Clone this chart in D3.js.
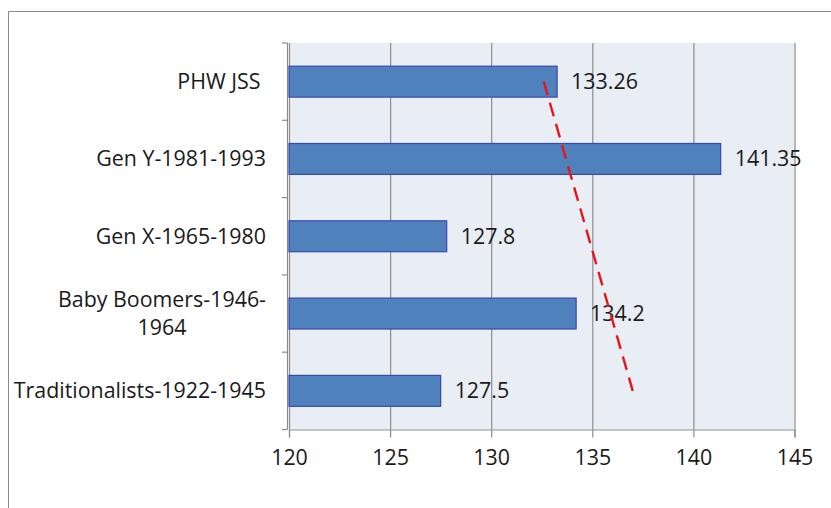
<!DOCTYPE html>
<html>
<head>
<meta charset="utf-8">
<script src="https://cdn.jsdelivr.net/npm/d3@7"></script>
<style>
  html, body { margin: 0; padding: 0; background: #fff; }
  svg { display: block; font-family: "Open Sans", sans-serif; }
</style>
</head>
<body>
<svg id="chart" width="831" height="508"></svg>
<script>
// Generation scores
const categories = ["PHW JSS", "Gen Y-1981-1993", "Gen X-1965-1980", "Baby Boomers-1946-1964", "Traditionalists-1922-1945"];
const categoryLines = [["PHW JSS "], ["Gen Y-1981-1993"], ["Gen X-1965-1980"], ["Baby Boomers-1946-", "1964"], ["Traditionalists-1922-1945"]];
const values = [133.26, 141.35, 127.8, 134.2, 127.5];
const valueLabels = ["133.26", "141.35", "127.8", "134.2", "127.5"];
const xTicks = [120, 125, 130, 135, 140, 145];
// Trend line end points (value, category)
const trendValues = [132.6, 137.0];
const trendCats = ["PHW JSS", "Traditionalists-1922-1945"];

const svg = d3.select("#chart");
const fontSize = 21.4;

// Outer frame
svg.append("path")
  .attr("d", "M8.5,508 L8.5,11.5 L831,11.5")
  .attr("fill", "none").attr("stroke", "#8a8a8a").attr("stroke-width", 1);

const plot = { left: 289, right: 794.5, top: 43, bottom: 429.5 };

const x = d3.scaleLinear().domain([120, 145]).range([plot.left, plot.right]);
const y = d3.scaleBand().domain(categories).range([plot.top, plot.bottom])
  .paddingInner(0.6).paddingOuter(0.3);

// Plot background
svg.append("rect")
  .attr("x", plot.left).attr("y", plot.top)
  .attr("width", plot.right - plot.left).attr("height", plot.bottom - plot.top)
  .attr("fill", "#e9edf4");

// Vertical grid lines
svg.append("g")
  .attr("transform", `translate(0,${plot.bottom})`)
  .call(d3.axisBottom(x).tickValues(xTicks).tickSize(-(plot.bottom - plot.top)).tickFormat(""))
  .call(g => g.select(".domain").remove())
  .call(g => g.selectAll(".tick line").attr("stroke", "#8c8c8c").attr("stroke-width", 1.2));

// Bottom axis with ticks and labels
svg.append("g")
  .attr("transform", `translate(0,${plot.bottom})`)
  .call(d3.axisBottom(x).tickValues(xTicks).tickSize(8).tickPadding(12).tickFormat(d3.format("d")))
  .call(g => g.select(".domain").attr("stroke", "#8c8c8c").attr("stroke-width", 1.2))
  .call(g => g.selectAll(".tick line").attr("stroke", "#8c8c8c").attr("stroke-width", 1.2))
  .call(g => g.selectAll(".tick text")
    .attr("font-family", "'Open Sans', sans-serif")
    .attr("font-size", fontSize).attr("fill", "#1a1a1a"));

// Left axis line with ticks on category boundaries
const bounds = d3.range(categories.length + 1).map(i => plot.top + i * y.step());
svg.append("line")
  .attr("x1", plot.left - 1.5).attr("x2", plot.left - 1.5)
  .attr("y1", plot.top).attr("y2", plot.bottom)
  .attr("stroke", "#8c8c8c").attr("stroke-width", 1.2);
svg.append("g").selectAll("line").data(bounds).join("line")
  .attr("x1", plot.left - 7).attr("x2", plot.left - 1.5)
  .attr("y1", d => d).attr("y2", d => d)
  .attr("stroke", "#8c8c8c").attr("stroke-width", 1.2);

// Bars
svg.append("g").selectAll("rect").data(categories).join("rect")
  .attr("x", x(120))
  .attr("y", c => y(c))
  .attr("width", (c, i) => x(values[i]) - x(120))
  .attr("height", y.bandwidth())
  .attr("fill", "#4f81bd")
  .attr("stroke", "#3b46b0").attr("stroke-width", 1.2);

// Value labels
svg.append("g").selectAll("text").data(categories).join("text")
  .attr("x", (c, i) => x(values[i]) + 14)
  .attr("y", c => y(c) + y.bandwidth() / 2)
  .attr("dy", "0.35em")
  .attr("font-size", fontSize).attr("fill", "#1a1a1a")
  .text((c, i) => valueLabels[i]);

// Category labels (multi-line labels centred on their widest line, block right-aligned)
const labelRight = 266;
const lineH = 28;
categories.forEach((c, i) => {
  const lines = categoryLines[i];
  const cy = y(c) + y.bandwidth() / 2;
  const t = svg.append("text")
    .attr("font-size", fontSize).attr("fill", "#1a1a1a")
    .style("white-space", "pre");
  lines.forEach((ln, j) => {
    t.append("tspan")
      .attr("y", cy + (j - (lines.length - 1) / 2) * lineH)
      .attr("dy", "0.35em")
      .text(ln);
  });
  let w = 0;
  t.selectAll("tspan").each(function () { w = Math.max(w, this.getComputedTextLength()); });
  t.attr("text-anchor", "middle");
  t.selectAll("tspan").attr("x", labelRight - w / 2);
});

// Dashed red trend line
const line = d3.line()
  .x(d => x(d[0]))
  .y(d => y(d[1]) + y.bandwidth() / 2);
svg.append("path")
  .datum(trendValues.map((v, i) => [v, trendCats[i]]))
  .attr("d", line)
  .attr("fill", "none")
  .attr("stroke", "#e8141b").attr("stroke-width", 2.4)
  .attr("stroke-dasharray", "14,8");
</script>
</body>
</html>
